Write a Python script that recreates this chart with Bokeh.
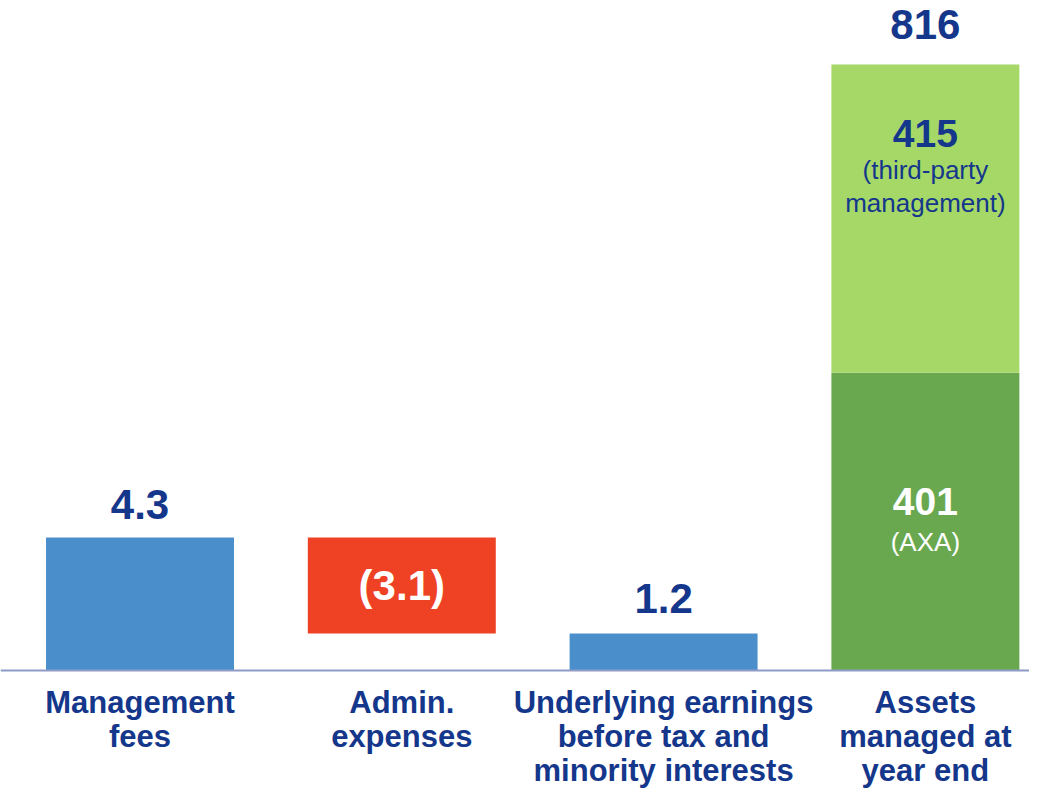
from bokeh.plotting import figure
from bokeh.models import Range1d, Span
from bokeh.core.properties import value
from bokeh.embed import file_html
from bokeh.resources import INLINE

# ---- data ----
categories = ["Management\nfees", "Admin.\nexpenses",
              "Underlying earnings\nbefore tax and\nminority interests",
              "Assets\nmanaged at\nyear end"]
flow_values = [4.3, -3.1, 1.2]          # management fees, admin expenses, underlying earnings
flow_labels = ["4.3", "(3.1)", "1.2"]
asset_values = [401, 415]               # AXA, third-party management
asset_labels = ["401", "415"]
asset_sublabels = ["(AXA)", "(third-party\nmanagement)"]
asset_total = 816
asset_total_label = "816"

NAVY = "#14378C"
FONT = value("Liberation Sans")

p = figure(width=1029, height=788, output_backend="svg", toolbar_location=None,
           x_range=Range1d(-0.5329, 3.3977), y_range=Range1d(-3.815, 21.662),
           x_axis_type=None, y_axis_type=None, min_border=0,
           min_border_left=0, min_border_right=0, min_border_top=0, min_border_bottom=0)
p.extra_y_ranges = {"assets": Range1d(-158.9, 902.2)}
p.grid.visible = False
p.outline_line_color = None
p.background_fill_color = "white"
p.border_fill_color = "white"

W = 0.718
xs = list(range(len(categories)))

# waterfall bars
fees, admin, earn = flow_values
running = fees
bars_bottom = [0, running + admin, 0]
bars_top = [fees, running, earn]
p.vbar(x=xs[:3], bottom=bars_bottom, top=bars_top, width=W,
       fill_color=["#4A8FCB", "#EF4123", "#4A8FCB"], line_color=None)

# assets stacked bar
axa, third = asset_values
p.vbar(x=[xs[3]], bottom=[0], top=[axa], width=W, fill_color="#6AA84F",
       line_color=None, y_range_name="assets")
p.vbar(x=[xs[3]], bottom=[axa], top=[axa + third], width=W, fill_color="#A6D867",
       line_color=None, y_range_name="assets")

# baseline
p.add_layout(Span(location=0, dimension="width", line_color="#8E9BC8", line_width=2))

# value labels
p.text(x=[xs[0]], y=[fees], text=[flow_labels[0]], y_offset=-33, text_align="center",
       text_baseline="middle", text_font=FONT, text_font_style="bold",
       text_font_size="42px", text_color=NAVY)
p.text(x=[xs[1]], y=[(bars_bottom[1] + bars_top[1]) / 2], text=[flow_labels[1]],
       text_align="center", text_baseline="middle", text_font=FONT,
       text_font_style="bold", text_font_size="42px", text_color="white")
p.text(x=[xs[2]], y=[earn], text=[flow_labels[2]], y_offset=-35, text_align="center",
       text_baseline="middle", text_font=FONT, text_font_style="bold",
       text_font_size="42px", text_color=NAVY)
p.text(x=[xs[3]], y=[asset_total], text=[asset_total_label], y_offset=-40,
       text_align="center", text_baseline="middle", text_font=FONT,
       text_font_style="bold", text_font_size="42px", text_color=NAVY,
       y_range_name="assets")

# AXA segment labels (white)
p.text(x=[xs[3]], y=[axa / 2], text=[asset_labels[0]], y_offset=-20,
       text_align="center", text_baseline="middle", text_font=FONT,
       text_font_style="bold", text_font_size="39px", text_color="white",
       y_range_name="assets")
p.text(x=[xs[3]], y=[axa / 2], text=[asset_sublabels[0]], y_offset=20,
       text_align="center", text_baseline="middle", text_font=FONT,
       text_font_size="26px", text_color="white", y_range_name="assets")

# third-party segment labels (navy), near the top of the segment
p.text(x=[xs[3]], y=[axa + third], text=[asset_labels[1]], y_offset=69,
       text_align="center", text_baseline="middle", text_font=FONT,
       text_font_style="bold", text_font_size="39px", text_color=NAVY,
       y_range_name="assets")
p.text(x=[xs[3]], y=[axa + third], text=[asset_sublabels[1]], y_offset=122,
       text_align="center", text_baseline="middle", text_font=FONT,
       text_font_size="26px", text_color=NAVY, text_line_height=1.07,
       y_range_name="assets")

# category labels
p.text(x=xs, y=[0] * len(xs), text=categories, y_offset=14, text_align="center",
       text_baseline="top", text_font=FONT, text_font_style="bold",
       text_font_size="31px", text_color=NAVY, text_line_height=0.98)

open("out.html", "w").write(file_html(p, INLINE))
